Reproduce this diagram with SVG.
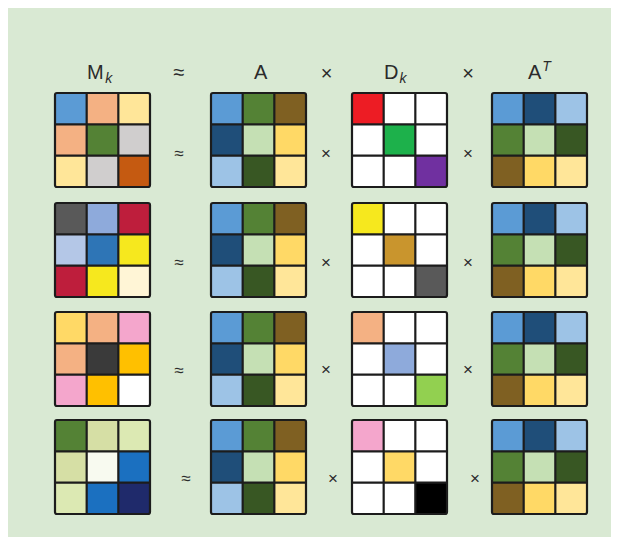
<svg xmlns="http://www.w3.org/2000/svg" xmlns:xlink="http://www.w3.org/1999/xlink" width="619" height="544" viewBox="0 0 619 544">
<style>
.hdr{font-family:"Liberation Sans",Arial,sans-serif;font-size:20px;fill:#2b2b2b}
.sub{font-style:italic;font-size:14px}
.op{font-family:"Liberation Sans",Arial,sans-serif;font-size:17px;fill:#2b2b2b;text-anchor:middle}
.gl{fill:none;stroke:#1c1c1c;stroke-width:2.2}
</style>
<defs>
<g id="grid">
<rect class="gl" x="0" y="0" width="95" height="94" rx="2"/>
<path class="gl" d="M31.67 0V94M63.33 0V94M0 31.33H95M0 62.67H95"/>
</g>
<g id="matA">
<rect x="0" y="0" width="31.67" height="31.33" fill="#5b9bd5"/>
<rect x="31.67" y="0" width="31.67" height="31.33" fill="#548235"/>
<rect x="63.33" y="0" width="31.67" height="31.33" fill="#7f6022"/>
<rect x="0" y="31.33" width="31.67" height="31.33" fill="#1f4e79"/>
<rect x="31.67" y="31.33" width="31.67" height="31.33" fill="#c5e0b4"/>
<rect x="63.33" y="31.33" width="31.67" height="31.33" fill="#ffd966"/>
<rect x="0" y="62.67" width="31.67" height="31.33" fill="#9dc3e6"/>
<rect x="31.67" y="62.67" width="31.67" height="31.33" fill="#385723"/>
<rect x="63.33" y="62.67" width="31.67" height="31.33" fill="#ffe699"/>
<use xlink:href="#grid"/>
</g>
<g id="matAT">
<rect x="0" y="0" width="31.67" height="31.33" fill="#5b9bd5"/>
<rect x="31.67" y="0" width="31.67" height="31.33" fill="#1f4e79"/>
<rect x="63.33" y="0" width="31.67" height="31.33" fill="#9dc3e6"/>
<rect x="0" y="31.33" width="31.67" height="31.33" fill="#548235"/>
<rect x="31.67" y="31.33" width="31.67" height="31.33" fill="#c5e0b4"/>
<rect x="63.33" y="31.33" width="31.67" height="31.33" fill="#385723"/>
<rect x="0" y="62.67" width="31.67" height="31.33" fill="#7f6022"/>
<rect x="31.67" y="62.67" width="31.67" height="31.33" fill="#ffd966"/>
<rect x="63.33" y="62.67" width="31.67" height="31.33" fill="#ffe699"/>
<use xlink:href="#grid"/>
</g>
</defs>
<rect x="8" y="8" width="603" height="529" fill="#d9e9d3"/>

<g id="headers">
<text class="hdr" x="87" y="79">M<tspan class="sub" dx="1.5" dy="4">k</tspan></text>
<text class="op" x="179" y="79" style="font-size:20px">≈</text>
<text class="hdr" x="254" y="79">A</text>
<text class="op" x="326.5" y="80" style="font-size:20px">×</text>
<text class="hdr" x="384" y="79">D<tspan class="sub" dx="1" dy="4">k</tspan></text>
<text class="op" x="468" y="80" style="font-size:20px">×</text>
<text class="hdr" x="528" y="79">A<tspan class="sub" dx="1" dy="-8">T</tspan></text>
</g>

<g id="connectors">
<text class="op" x="179" y="158.5">≈</text>
<text class="op" x="326" y="159">×</text>
<text class="op" x="468" y="159">×</text>
<text class="op" x="179" y="268">≈</text>
<text class="op" x="326" y="268">×</text>
<text class="op" x="468" y="268">×</text>
<text class="op" x="179" y="376">≈</text>
<text class="op" x="326" y="375">×</text>
<text class="op" x="468" y="375">×</text>
<text class="op" x="186" y="484">≈</text>
<text class="op" x="333" y="484">×</text>
<text class="op" x="475" y="484">×</text>
</g>

<g id="M1" transform="translate(55,93)">
<rect x="0" y="0" width="31.67" height="31.33" fill="#5b9bd5"/>
<rect x="31.67" y="0" width="31.67" height="31.33" fill="#f4b183"/>
<rect x="63.33" y="0" width="31.67" height="31.33" fill="#ffe699"/>
<rect x="0" y="31.33" width="31.67" height="31.33" fill="#f4b183"/>
<rect x="31.67" y="31.33" width="31.67" height="31.33" fill="#548235"/>
<rect x="63.33" y="31.33" width="31.67" height="31.33" fill="#d0cece"/>
<rect x="0" y="62.67" width="31.67" height="31.33" fill="#ffe699"/>
<rect x="31.67" y="62.67" width="31.67" height="31.33" fill="#d0cece"/>
<rect x="63.33" y="62.67" width="31.67" height="31.33" fill="#c55a11"/>
<use xlink:href="#grid"/>
</g>
<g id="A1" transform="translate(211,93)"><use xlink:href="#matA"/></g>
<g id="D1" transform="translate(352,93)">
<rect x="0" y="0" width="95" height="94" fill="#ffffff"/>
<rect x="0" y="0" width="31.67" height="31.33" fill="#ed1c24"/>
<rect x="31.67" y="31.33" width="31.67" height="31.33" fill="#1db14b"/>
<rect x="63.33" y="62.67" width="31.67" height="31.33" fill="#7030a0"/>
<use xlink:href="#grid"/>
</g>
<g id="AT1" transform="translate(492,93)"><use xlink:href="#matAT"/></g>

<g id="M2" transform="translate(55,203)">
<rect x="0" y="0" width="31.67" height="31.33" fill="#595959"/>
<rect x="31.67" y="0" width="31.67" height="31.33" fill="#8eaadb"/>
<rect x="63.33" y="0" width="31.67" height="31.33" fill="#be1e3c"/>
<rect x="0" y="31.33" width="31.67" height="31.33" fill="#b4c7e7"/>
<rect x="31.67" y="31.33" width="31.67" height="31.33" fill="#2e75b6"/>
<rect x="63.33" y="31.33" width="31.67" height="31.33" fill="#f6e81e"/>
<rect x="0" y="62.67" width="31.67" height="31.33" fill="#be1e3c"/>
<rect x="31.67" y="62.67" width="31.67" height="31.33" fill="#f6e81e"/>
<rect x="63.33" y="62.67" width="31.67" height="31.33" fill="#fff5d6"/>
<use xlink:href="#grid"/>
</g>
<g id="A2" transform="translate(211,203)"><use xlink:href="#matA"/></g>
<g id="D2" transform="translate(352,203)">
<rect x="0" y="0" width="95" height="94" fill="#ffffff"/>
<rect x="0" y="0" width="31.67" height="31.33" fill="#f6e81e"/>
<rect x="31.67" y="31.33" width="31.67" height="31.33" fill="#c9952d"/>
<rect x="63.33" y="62.67" width="31.67" height="31.33" fill="#595959"/>
<use xlink:href="#grid"/>
</g>
<g id="AT2" transform="translate(492,203)"><use xlink:href="#matAT"/></g>

<g id="M3" transform="translate(55,312)">
<rect x="0" y="0" width="31.67" height="31.33" fill="#ffd966"/>
<rect x="31.67" y="0" width="31.67" height="31.33" fill="#f4b183"/>
<rect x="63.33" y="0" width="31.67" height="31.33" fill="#f4a6cc"/>
<rect x="0" y="31.33" width="31.67" height="31.33" fill="#f4b183"/>
<rect x="31.67" y="31.33" width="31.67" height="31.33" fill="#3a3a3a"/>
<rect x="63.33" y="31.33" width="31.67" height="31.33" fill="#ffc000"/>
<rect x="0" y="62.67" width="31.67" height="31.33" fill="#f4a6cc"/>
<rect x="31.67" y="62.67" width="31.67" height="31.33" fill="#ffc000"/>
<rect x="63.33" y="62.67" width="31.67" height="31.33" fill="#ffffff"/>
<use xlink:href="#grid"/>
</g>
<g id="A3" transform="translate(211,312)"><use xlink:href="#matA"/></g>
<g id="D3" transform="translate(352,312)">
<rect x="0" y="0" width="95" height="94" fill="#ffffff"/>
<rect x="0" y="0" width="31.67" height="31.33" fill="#f4b183"/>
<rect x="31.67" y="31.33" width="31.67" height="31.33" fill="#8eaadb"/>
<rect x="63.33" y="62.67" width="31.67" height="31.33" fill="#92d050"/>
<use xlink:href="#grid"/>
</g>
<g id="AT3" transform="translate(492,312)"><use xlink:href="#matAT"/></g>

<g id="M4" transform="translate(55,420)">
<rect x="0" y="0" width="31.67" height="31.33" fill="#548235"/>
<rect x="31.67" y="0" width="31.67" height="31.33" fill="#d6dfa5"/>
<rect x="63.33" y="0" width="31.67" height="31.33" fill="#dce9b3"/>
<rect x="0" y="31.33" width="31.67" height="31.33" fill="#d6dfa5"/>
<rect x="31.67" y="31.33" width="31.67" height="31.33" fill="#f8faf0"/>
<rect x="63.33" y="31.33" width="31.67" height="31.33" fill="#1b70c0"/>
<rect x="0" y="62.67" width="31.67" height="31.33" fill="#dce9b3"/>
<rect x="31.67" y="62.67" width="31.67" height="31.33" fill="#1b70c0"/>
<rect x="63.33" y="62.67" width="31.67" height="31.33" fill="#1f2a6b"/>
<use xlink:href="#grid"/>
</g>
<g id="A4" transform="translate(211,420)"><use xlink:href="#matA"/></g>
<g id="D4" transform="translate(352,420)">
<rect x="0" y="0" width="95" height="94" fill="#ffffff"/>
<rect x="0" y="0" width="31.67" height="31.33" fill="#f4a6cc"/>
<rect x="31.67" y="31.33" width="31.67" height="31.33" fill="#ffd966"/>
<rect x="63.33" y="62.67" width="31.67" height="31.33" fill="#000000"/>
<use xlink:href="#grid"/>
</g>
<g id="AT4" transform="translate(492,420)"><use xlink:href="#matAT"/></g>
</svg>
